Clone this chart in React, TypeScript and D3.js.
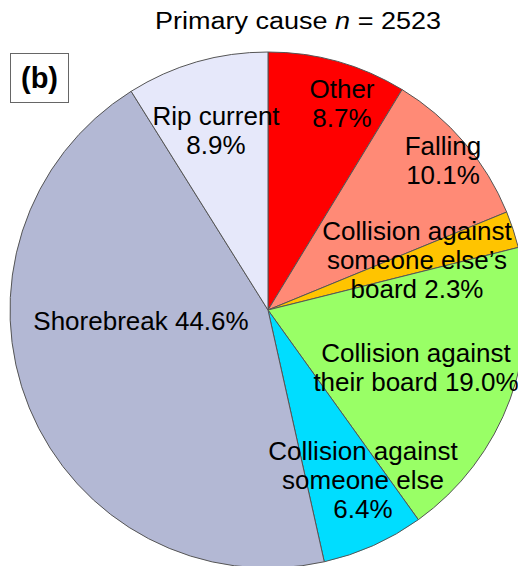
import React from "react";
import * as d3 from "d3";

const categories = [
  "Other",
  "Falling",
  "Collision against someone else's board",
  "Collision against their board",
  "Collision against someone else",
  "Shorebreak",
  "Rip current",
];
const values = [8.7, 10.1, 2.3, 19.0, 6.4, 44.6, 8.9];
const colors = ["#FF0000", "#FF8A76", "#FFC400", "#99FF66", "#00DDFF", "#B3B8D4", "#E6E8FA"];
const labelLines = [
  ["Other", "8.7%"],
  ["Falling", "10.1%"],
  ["Collision against", "someone else\u2019s", "board 2.3%"],
  ["Collision against", "their board 19.0%"],
  ["Collision against", "someone else", "6.4%"],
  ["Shorebreak 44.6%"],
  ["Rip current", "8.9%"],
];
// label anchor (center x, first baseline y)
const labelPos: [number, number][] = [
  [342, 98],
  [443, 155],
  [417, 240],
  [416, 362],
  [363, 460],
  [141, 330],
  [216, 125],
];

const W = 518;
const H = 566;
const cx = 268;
const cy = 310;
const R = 258;

export default function App() {
  const pie = d3.pie<number>().sort(null).startAngle(0).endAngle(2 * Math.PI);
  const arcs = pie(values);
  const arc = d3.arc<d3.PieArcDatum<number>>().innerRadius(0).outerRadius(R);
  const font = "Arial, 'Liberation Sans', sans-serif";
  return (
    <svg
      width={W}
      height={H}
      style={{ position: "absolute", left: 0, top: 0, background: "#fff" }}
      fontFamily={font}
    >
      <g transform={`translate(${cx},${cy})`}>
        {arcs.map((a, i) => (
          <path key={categories[i]} d={arc(a) || ""} fill={colors[i]} stroke="#555" strokeWidth={1} />
        ))}
      </g>
      {labelLines.map((lines, i) => (
        <text key={"l" + i} textAnchor="middle" fontSize={26} fill="#000">
          {lines.map((ln, j) => (
            <tspan key={j} x={labelPos[i][0]} y={labelPos[i][1] + j * 29}>
              {ln}
            </tspan>
          ))}
        </text>
      ))}
      <text
        x={155}
        y={29}
        fontSize={23}
        fill="#000"
        textLength={286}
        lengthAdjust="spacingAndGlyphs"
      >
        Primary cause <tspan fontStyle="italic">n</tspan> = 2523
      </text>
      <rect x={10.5} y={53.5} width={58} height={49} fill="#fff" stroke="#666" strokeWidth={1} />
      <text x={39.5} y={88} textAnchor="middle" fontSize={29} fontWeight="bold" fill="#000">
        (b)
      </text>
    </svg>
  );
}
